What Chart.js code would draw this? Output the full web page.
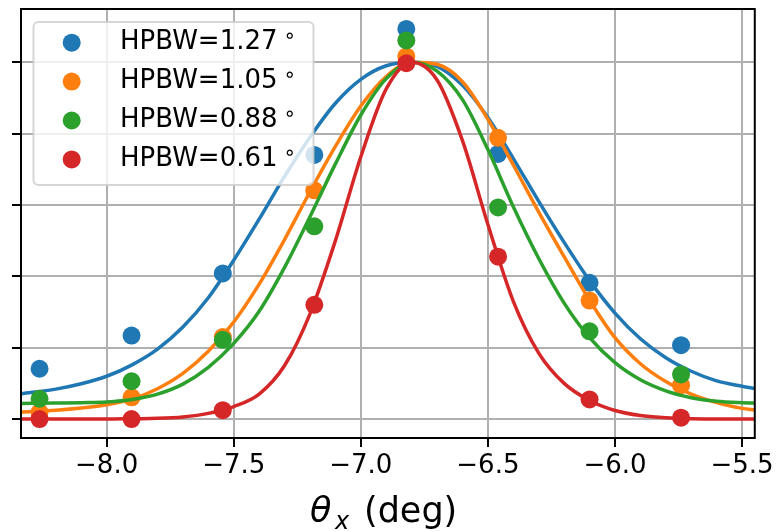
<!DOCTYPE html>
<html>
<head>
<meta charset="utf-8">
<script src="https://cdn.jsdelivr.net/npm/chart.js@4.4.0/dist/chart.umd.min.js"></script>
<style>
  html, body { margin: 0; padding: 0; background: #fff; }
  #wrap { width: 778px; height: 531px; position: relative; }
</style>
</head>
<body>
<div id="wrap"><canvas id="beamChart"></canvas></div>
<script>
// measured beam cuts (normalised power) at each theta_x
const pointX = [-8.264, -7.902, -7.543, -7.183, -6.821, -6.460, -6.100, -5.740];
const bluePts = [0.141, 0.234, 0.408, 0.740, 1.093, 0.743, 0.382, 0.207];
const orangePts = [0.019, 0.061, 0.230, 0.641, 1.016, 0.788, 0.332, 0.095];
const greenPts = [0.057, 0.106, 0.222, 0.540, 1.061, 0.593, 0.246, 0.125];
const redPts = [0.000, 0.000, 0.025, 0.320, 0.997, 0.455, 0.055, 0.004];

// fitted curves
const fitX = [-8.337, -8.2, -8.1, -8.0, -7.9, -7.8, -7.7, -7.6, -7.5, -7.4, -7.3, -7.2, -7.1, -7.0, -6.9, -6.8,
              -6.7, -6.6, -6.5, -6.4, -6.3, -6.2, -6.1, -6.0, -5.9, -5.8, -5.7, -5.6, -5.5, -5.45];
const blueFit = [0.071, 0.084, 0.099, 0.120, 0.152, 0.196, 0.258, 0.340, 0.445, 0.560, 0.680, 0.790, 0.885, 0.952, 0.990, 1.0,
                 0.988, 0.935, 0.845, 0.730, 0.610, 0.495, 0.388, 0.297, 0.225, 0.172, 0.134, 0.107, 0.092, 0.086];
const orangeFit = [0.020, 0.025, 0.031, 0.040, 0.056, 0.085, 0.128, 0.190, 0.272, 0.378, 0.503, 0.637, 0.764, 0.877, 0.960, 1.0,
                   0.994, 0.945, 0.840, 0.712, 0.580, 0.455, 0.333, 0.228, 0.155, 0.105, 0.070, 0.046, 0.030, 0.025];
const greenFit = [0.044, 0.045, 0.046, 0.048, 0.055, 0.070, 0.098, 0.145, 0.212, 0.302, 0.425, 0.567, 0.715, 0.852, 0.954, 1.0,
                  0.975, 0.895, 0.755, 0.595, 0.450, 0.325, 0.228, 0.158, 0.110, 0.079, 0.060, 0.050, 0.046, 0.045];
const redFitX = [-8.337, -8.0, -7.9, -7.8, -7.7, -7.6, -7.5, -7.4, -7.3, -7.2, -7.1, -7.0, -6.9, -6.8,
                 -6.7, -6.6, -6.5, -6.4, -6.3, -6.2, -6.1, -6.0, -5.9, -5.8, -5.7, -5.6, -5.45];
const redFit = [0.0, 0.0, 0.001, 0.002, 0.006, 0.016, 0.035, 0.070, 0.150, 0.295, 0.500, 0.735, 0.925, 1.0,
                0.950, 0.780, 0.545, 0.330, 0.185, 0.100, 0.052, 0.024, 0.010, 0.004, 0.001, 0.0, 0.0];

const hpbw = ['1.27', '1.05', '0.88', '0.61'];
const colors = ['#1f77b4', '#ff7f0e', '#2ca02c', '#d62728'];
const xTicks = [-8.0, -7.5, -7.0, -6.5, -6.0, -5.5];
const yTicks = [0, 0.2, 0.4, 0.6, 0.8, 1.0];

const ptSeries = [bluePts, orangePts, greenPts, redPts];
const fitSeries = [[fitX, blueFit], [fitX, orangeFit], [fitX, greenFit], [redFitX, redFit]];

function toXY(xs, ys) {
    return xs.map((x, i) => ({ x: x, y: ys[i] }));
}

// line then points per series, later series on top
const datasets = [];
let ord = 8;
for (let i = 0; i < 4; i++) {
    datasets.push({
        data: toXY(fitSeries[i][0], fitSeries[i][1]),
        borderColor: colors[i],
        borderWidth: 3.5,
        pointRadius: 0,
        fill: false,
        cubicInterpolationMode: 'monotone',
        order: ord--
    });
    datasets.push({
        data: toXY(pointX, ptSeries[i]),
        showLine: false,
        pointRadius: 9,
        pointBorderWidth: 0,
        pointBackgroundColor: colors[i],
        borderColor: colors[i],
        order: ord--
    });
}

const framePlugin = {
    id: 'frame',
    afterDraw(chart) {
        const { ctx, chartArea: a } = chart;
        ctx.save();
        ctx.strokeStyle = '#000';
        ctx.lineWidth = 2;
        ctx.strokeRect(a.left, a.top, a.right - a.left, a.bottom - a.top);

        // legend box
        ctx.beginPath();
        ctx.roundRect(33.5, 22, 280, 163, 5);
        ctx.fillStyle = 'rgba(255,255,255,0.8)';
        ctx.fill();
        ctx.strokeStyle = 'rgba(204,204,204,0.8)';
        ctx.lineWidth = 2;
        ctx.stroke();

        for (let i = 0; i < 4; i++) {
            const rowY = 42.7 + i * 38.9;
            ctx.beginPath();
            ctx.arc(71.7, rowY, 9, 0, Math.PI * 2);
            ctx.fillStyle = colors[i];
            ctx.fill();
            ctx.fillStyle = '#000';
            ctx.font = '26px "DejaVu Sans"';
            ctx.textBaseline = 'middle';
            ctx.textAlign = 'left';
            const label = 'HPBW=' + hpbw[i];
            ctx.fillText(label, 120, rowY);
            const w = ctx.measureText(label).width;
            ctx.font = '20px "DejaVu Sans"';
            ctx.textBaseline = 'alphabetic';
            ctx.fillText('\u2218', 120 + w + 6, rowY - 0.5);
        }

        // x axis title: theta_x (deg)
        const base = 521.5;
        ctx.textBaseline = 'alphabetic';
        ctx.font = 'italic 35px "DejaVu Sans"';
        ctx.fillText('\u03B8', 310, base);
        ctx.font = 'italic 24px "DejaVu Sans"';
        ctx.fillText('x', 335, base + 7.5);
        ctx.font = '35px "DejaVu Sans"';
        ctx.fillText('(deg)', 364, base);
        ctx.restore();
    }
};

const gridOpts = {
    color: '#b0b0b0',
    lineWidth: 2,
    tickColor: '#000',
    tickWidth: 2,
    tickLength: 9
};

new Chart(document.getElementById('beamChart'), {
    type: 'line',
    data: { datasets: datasets },
    options: {
        responsive: true,
        maintainAspectRatio: false,
        animation: false,
        layout: { padding: { top: 7, right: 21, left: 0, bottom: 0 } },
        plugins: { legend: { display: false }, tooltip: { enabled: false } },
        scales: {
            x: {
                type: 'linear',
                min: -8.337,
                max: -5.45,
                afterBuildTicks: s => { s.ticks = xTicks.map(v => ({ value: v })); },
                afterFit: s => { s.height = 93; },
                ticks: {
                    color: '#000',
                    font: { family: 'DejaVu Sans', size: 26 },
                    padding: 4,
                    maxRotation: 0,
                    autoSkip: false,
                    callback: v => (v < 0 ? '\u2212' : '') + Math.abs(v).toFixed(1)
                },
                grid: gridOpts,
                border: { display: false }
            },
            y: {
                type: 'linear',
                min: -0.053,
                max: 1.149,
                afterBuildTicks: s => { s.ticks = yTicks.map(v => ({ value: v })); },
                afterFit: s => { s.width = 21; },
                ticks: { display: false },
                grid: gridOpts,
                border: { display: false }
            }
        }
    },
    plugins: [framePlugin]
});
</script>
</body>
</html>
